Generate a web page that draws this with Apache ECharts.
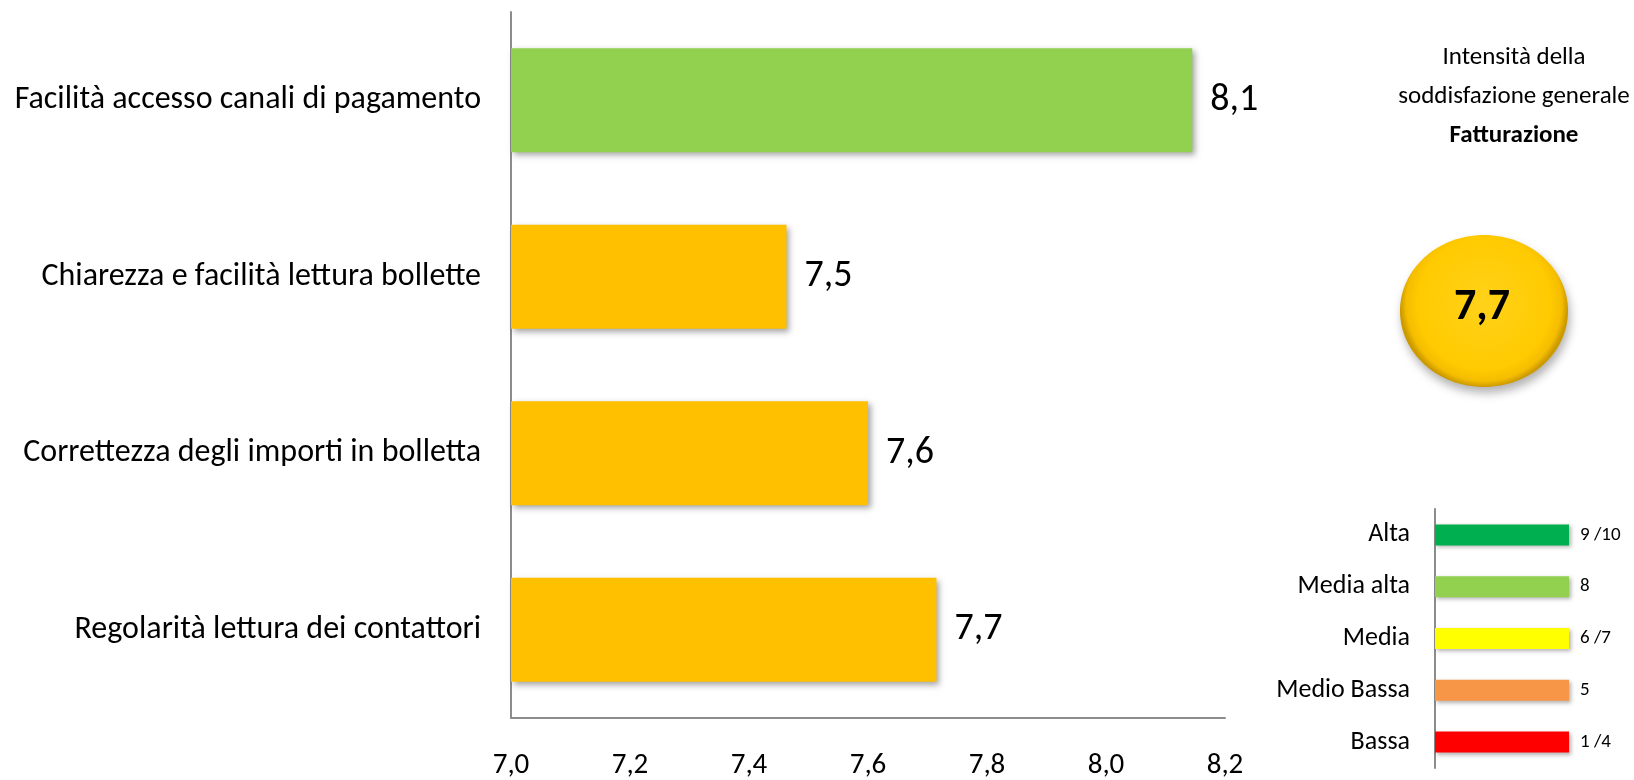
<!DOCTYPE html>
<html>
<head>
<meta charset="utf-8">
<script src="https://cdn.jsdelivr.net/npm/echarts@6/dist/echarts.min.js"></script>
<style>
html,body{margin:0;padding:0;background:#fff;}
#chart{width:1634px;height:780px;}
</style>
</head>
<body>
<div id="chart"></div>
<script>
// ---- data ----
const categories = [
  'Facilità accesso canali di pagamento',
  'Chiarezza e facilità lettura bollette',
  'Correttezza degli importi in bolletta',
  'Regolarità lettura dei contattori'
];
const values = [8.145, 7.463, 7.60, 7.715];
const axisMin = 7.0, axisMax = 8.2, axisStep = 0.2;

const overallScore = 7.7;
const titleLines = ['Intensità della', 'soddisfazione generale', 'Fatturazione'];

const scaleLevels = ['Alta', 'Media alta', 'Media', 'Medio Bassa', 'Bassa'];
const scaleRanges = ['9 /10', '8', '6 /7', '5', '1 /4'];
const scaleBarValues = [1, 1, 1, 1, 1];

// ---- styles ----
const FONT = 'Carlito, Calibri, Lato, sans-serif';
const barColors = ['#92D050', '#FFC000', '#FFC000', '#FFC000'];
const scaleColors = ['#00B050', '#92D050', '#FFFF00', '#F79646', '#FF0000'];
const axisGray = '#8C8C8C';
const fmt = v => (Math.round(v * 10) / 10).toFixed(1).replace('.', ',');

const chart = echarts.init(document.getElementById('chart'));
chart.setOption({
  backgroundColor: '#fff',
  animation: false,
  textStyle: { fontFamily: FONT },
  title: {
    text: '{n|' + titleLines[0] + '}\n{n|' + titleLines[1] + '}\n{b|' + titleLines[2] + '}',
    left: 1514, top: 38, textAlign: 'center', padding: 0,
    textStyle: {
      fontFamily: FONT, fontSize: 25, fontWeight: 'normal', color: '#000', lineHeight: 39,
      rich: {
        n: { fontFamily: FONT, fontSize: 25, fontWeight: 'normal', color: '#000', lineHeight: 39 },
        b: { fontFamily: FONT, fontSize: 25, fontWeight: 'bold', color: '#000', lineHeight: 39 }
      }
    }
  },
  grid: [
    { left: 511, top: 12, width: 714, height: 710 },
    { left: 1435, top: 509, width: 134, height: 259 }
  ],
  xAxis: [
    {
      gridIndex: 0, type: 'value', min: axisMin, max: axisMax, interval: axisStep,
      splitLine: { show: false },
      axisLine: { show: true, lineStyle: { color: axisGray, width: 2 } },
      axisTick: { show: false },
      axisLabel: { color: '#000', fontSize: 29, fontFamily: FONT, margin: 33, formatter: v => fmt(v) }
    },
    {
      gridIndex: 1, type: 'value', min: 0, max: 1, show: false
    }
  ],
  yAxis: [
    {
      gridIndex: 0, type: 'category', data: categories, inverse: true,
      axisLine: { show: true, lineStyle: { color: axisGray, width: 2 } },
      axisTick: { show: false },
      axisLabel: { color: '#000', fontSize: 32, fontFamily: FONT, margin: 30 }
    },
    {
      gridIndex: 1, type: 'category', data: scaleLevels, inverse: true,
      axisLine: { show: true, lineStyle: { color: axisGray, width: 2 } },
      axisTick: { show: false },
      axisLabel: { color: '#000', fontSize: 26, fontFamily: FONT, margin: 25 }
    }
  ],
  series: [
    {
      type: 'bar', xAxisIndex: 0, yAxisIndex: 0,
      barWidth: 104,
      data: values.map((v, i) => ({ value: v, itemStyle: { color: barColors[i] } })),
      itemStyle: { shadowColor: 'rgba(0,0,0,0.35)', shadowBlur: 6, shadowOffsetX: 3, shadowOffsetY: 3 },
      label: {
        show: true, position: 'right', distance: 18, color: '#000',
        fontSize: 38, fontFamily: FONT, formatter: p => fmt(p.value)
      }
    },
    {
      type: 'bar', xAxisIndex: 1, yAxisIndex: 1,
      barWidth: 21,
      data: scaleBarValues.map((v, i) => ({ value: v, itemStyle: { color: scaleColors[i] } })),
      itemStyle: { shadowColor: 'rgba(0,0,0,0.3)', shadowBlur: 4, shadowOffsetX: 2, shadowOffsetY: 2 },
      label: {
        show: true, position: 'right', distance: 11, color: '#000',
        fontSize: 19, fontFamily: FONT, formatter: p => scaleRanges[p.dataIndex]
      }
    }
  ],
  graphic: [
    {
      type: 'ellipse',
      shape: { cx: 1484, cy: 311, rx: 84, ry: 76 },
      style: {
        fill: new echarts.graphic.RadialGradient(0.5, 0.45, 0.55, [
          { offset: 0, color: '#FFD21A' },
          { offset: 0.8, color: '#FFCA00' },
          { offset: 0.93, color: '#F5BD00' },
          { offset: 1, color: '#CC9A00' }
        ]),
        shadowColor: 'rgba(0,0,0,0.3)', shadowBlur: 10, shadowOffsetX: 2, shadowOffsetY: 6
      }
    },
    {
      type: 'text', x: 1482, y: 308,
      style: {
        text: fmt(overallScore), fontSize: 44, fontWeight: 'bold', fill: '#000',
        fontFamily: FONT, align: 'center', verticalAlign: 'middle'
      }
    }
  ]
});
</script>
</body>
</html>
